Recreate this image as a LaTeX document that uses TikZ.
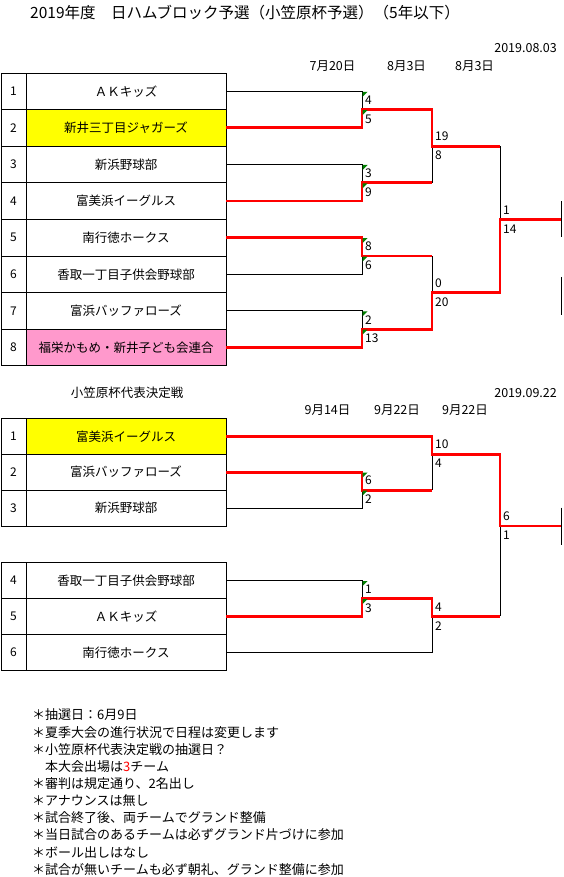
\documentclass[tikz,border=0pt]{standalone}
\usepackage{fontspec}
\setmainfont{Noto Sans CJK JP}
\usepackage{tikz}
\usetikzlibrary{calc}
\usepackage{xcolor}
\definecolor{winred}{RGB}{255,0,0}
\definecolor{seedyellow}{RGB}{255,255,0}
\definecolor{seedpink}{RGB}{255,153,204}
\definecolor{errgreen}{RGB}{0,128,0}

\begin{document}
\begin{tikzpicture}[x=1pt, y=-1pt,
  numcell/.style={draw, line width=0.8pt, minimum width=25pt, inner sep=0pt, outer sep=0pt, font=\fontsize{12}{14}\selectfont},
  teamcell/.style={draw, line width=0.8pt, minimum width=200pt, inner sep=0pt, outer sep=0pt, font=\fontsize{12.5}{15}\selectfont},
  lose/.style={black, line width=0.9pt},
  win/.style={winred, line width=2.8pt},
  scoreup/.style={anchor=west, inner sep=0pt, xshift=3pt, yshift=9.5pt, font=\fontsize{12}{14}\selectfont},
  scoredn/.style={anchor=west, inner sep=0pt, xshift=3pt, yshift=-9.5pt, font=\fontsize{12}{14}\selectfont},
  datetext/.style={inner sep=0pt, font=\fontsize{12.5}{15}\selectfont},
  notetext/.style={anchor=west, inner sep=0pt, font=\fontsize{13}{15}\selectfont},
  errmark/.pic={\fill[errgreen] (0.5,0.5) -- (5.5,0.5) -- (0.5,5.5) -- cycle;}]
  \useasboundingbox (0,0) rectangle (563,877);
  \fill[white] (0,0) rectangle (563,877);

  % Title and dates
  \node[anchor=west, inner sep=0pt, font=\fontsize{15.5}{18}\selectfont] (title) at (30,13) {2019年度　日ハムブロック予選（小笠原杯予選）（5年以下）};
  \node[datetext, anchor=east] (upd1) at (557,48) {2019.08.03};
  \node[datetext] (d1) at (332.5,66) {7月20日};
  \node[datetext] (d2) at (406.5,66) {8月3日};
  \node[datetext] (d3) at (474.5,66) {8月3日};

  % Block table
  \foreach \i/\team/\col in {1/ＡＫキッズ/white, 2/新井三丁目ジャガーズ/seedyellow, 3/新浜野球部/white,
      4/富美浜イーグルス/white, 5/南行徳ホークス/white, 6/香取一丁目子供会野球部/white,
      7/富浜バッファローズ/white, 8/福栄かもめ・新井子ども会連合/seedpink}{
    \node[numcell, minimum height=36.6pt] (n\i) at (13.5, {54.7+36.6*\i}) {\i};
    \node[teamcell, minimum height=36.6pt, fill=\col] (t\i) at (126, {54.7+36.6*\i}) {\team};
  }

  % Block bracket
  \coordinate (ja) at (362,109.6);
  \coordinate (jb) at (362,182.8);
  \coordinate (jc) at (362,256);
  \coordinate (jd) at (362,329.2);
  \coordinate (je) at (432,146.2);
  \coordinate (jf) at (432,292.6);
  \coordinate (jg) at (500,219.4);
  \coordinate (fa) at (561,219.4);
  \coordinate (fb) at (561,295.8);
  \draw[lose] (t1.east) -- (t1.east -| ja) -- (t2.east -| ja);
  \draw[lose] (t3.east) -- (t3.east -| jb) -- (t4.east -| jb);
  \draw[lose] (t6.east) -- (t6.east -| jc) -- (t5.east -| jc);
  \draw[lose] (t7.east) -- (t7.east -| jd) -- (t8.east -| jd);
  \draw[lose] (ja -| je) -- (jb -| je);
  \draw[lose] (jc -| jf) -- (jd -| jf);
  \draw[lose] (je -| jg) -- (jf -| jg);
  \draw[lose] ([yshift=18pt]fa) -- ([yshift=-18pt]fa);
  \draw[lose] ([yshift=19pt]fb) -- ([yshift=-19pt]fb);
  \draw[win] (t2.east) -- (t2.east -| ja) -- (ja) -- (ja -| je) -- (je) -- (je -| jg);
  \draw[win] (t4.east) -- (t4.east -| jb) -- (jb) -- (jb -| je);
  \draw[win] (t5.east) -- (t5.east -| jc) -- (jc) -- (jc -| jf);
  \draw[win] (t8.east) -- (t8.east -| jd) -- (jd) -- (jd -| jf) -- (jf) -- (jf -| jg) -- (jg) -- (fa);

  % Representative match
  \node[datetext] (sub) at (127,393) {小笠原杯代表決定戦};
  \node[datetext, anchor=east] (upd2) at (557,393) {2019.09.22};
  \node[datetext] (d4) at (327.5,410) {9月14日};
  \node[datetext] (d5) at (397,410) {9月22日};
  \node[datetext] (d6) at (465,410) {9月22日};
  \foreach \i/\team/\col in {1/富美浜イーグルス/seedyellow, 2/富浜バッファローズ/white, 3/新浜野球部/white}{
    \node[numcell, minimum height=35.9pt] (m\i) at (13.5, {400.35+35.9*\i}) {\i};
    \node[teamcell, minimum height=35.9pt, fill=\col] (u\i) at (126, {400.35+35.9*\i}) {\team};
  }
  \foreach \i/\team in {4/香取一丁目子供会野球部, 5/ＡＫキッズ, 6/南行徳ホークス}{
    \node[numcell, minimum height=35.9pt] (m\i) at (13.5, {436.95+35.9*\i}) {\i};
    \node[teamcell, minimum height=35.9pt] (u\i) at (126, {436.95+35.9*\i}) {\team};
  }
  \coordinate (jp) at (362,490.1);
  \coordinate (jq) at (432,454.2);
  \coordinate (jr) at (362,598.5);
  \coordinate (js) at (432,616.45);
  \coordinate (jt) at (500,526);
  \coordinate (fc) at (561,526);
  \draw[lose] (u1.east -| jq) -- (jp -| jq);
  \draw[lose] (u3.east) -- (u3.east -| jp) -- (u2.east -| jp);
  \draw[lose] (u4.east) -- (u4.east -| jr) -- (u5.east -| jr);
  \draw[lose] (u6.east) -- (u6.east -| js) -- (jr -| js);
  \draw[lose] (jq -| jt) -- (js -| jt);
  \draw[lose] ([yshift=18.5pt]fc) -- ([yshift=-18.5pt]fc);
  \draw[win] (u1.east) -- (u1.east -| jq) -- (jq) -- (jq -| jt) -- (jt) -- (fc);
  \draw[win] (u2.east) -- (u2.east -| jp) -- (jp) -- (jp -| jq);
  \draw[win] (u5.east) -- (u5.east -| jr) -- (jr) -- (jr -| js) -- (js) -- (js -| jt);

  % Error marks and scores
  \foreach \r/\j in {t1/ja, t3/jb, t5/jc, t7/jd, u2/jp, u4/jr}{
    \pic at (\r.east -| \j) {errmark};
    \pic at (\j) {errmark};
  }
  \foreach \j/\hi/\lo in {ja/4/5, jb/3/9, jc/8/6, jd/2/13, je/19/8, jf/0/20, jg/1/14,
      jp/6/2, jq/10/4, jr/1/3, js/4/2, jt/6/1}{
    \node[scoreup] (\j-hi) at (\j) {\hi};
    \node[scoredn] (\j-lo) at (\j) {\lo};
  }

  % Notes
  \foreach \k/\txt in {0/{＊抽選日：6月9日}, 1/{＊夏季大会の進行状況で日程は変更します},
      2/{＊小笠原杯代表決定戦の抽選日？}, 3/{　本大会出場は\textcolor{winred}{3}チーム},
      4/{＊審判は規定通り、2名出し}, 5/{＊アナウンスは無し}, 6/{＊試合終了後、両チームでグランド整備},
      7/{＊当日試合のあるチームは必ずグランド片づけに参加}, 8/{＊ボール出しはなし},
      9/{＊試合が無いチームも必ず朝礼、グランド整備に参加}}{
    \node[notetext] (note\k) at (32, {715+17.15*\k}) {\txt};
  }
\end{tikzpicture}
\end{document}
